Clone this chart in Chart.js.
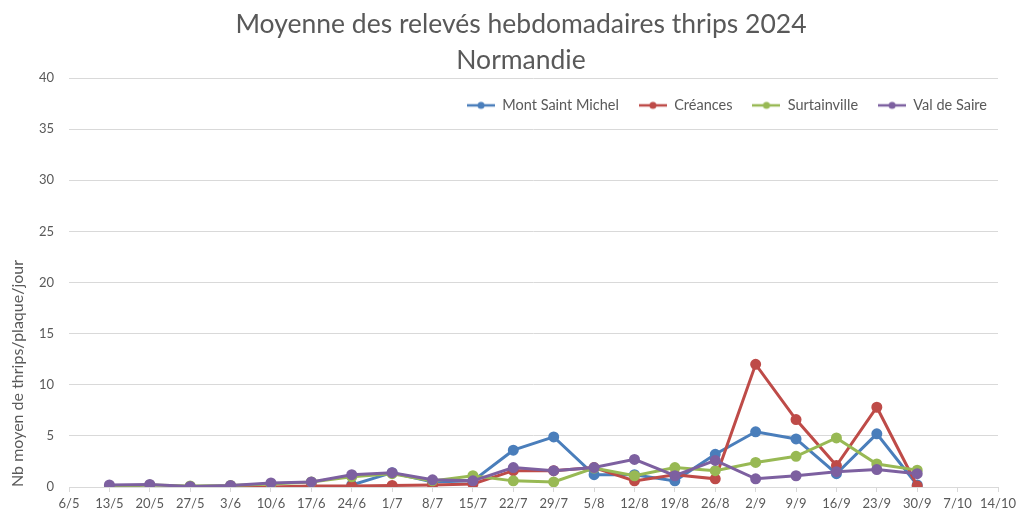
<!DOCTYPE html>
<html>
<head>
<meta charset="utf-8">
<script src="https://cdn.jsdelivr.net/npm/chart.js@4.4.1/dist/chart.umd.min.js"></script>
<style>
  html, body { margin: 0; padding: 0; background: #fff; }
  #wrap { width: 1028px; height: 510px; }
</style>
</head>
<body>
<div id="wrap"><canvas id="myChart" width="1028" height="510"></canvas></div>
<script>
let dates = ['6/5','13/5','20/5','27/5','3/6','10/6','17/6','24/6','1/7','8/7','15/7','22/7','29/7',
             '5/8','12/8','19/8','26/8','2/9','9/9','16/9','23/9','30/9','7/10','14/10'];

let montSaintMichel = [null,null,null,null,null,null,null,0.2,1.4,0.5,0.6,3.6,4.9,1.2,1.2,0.6,3.2,5.4,4.7,1.3,5.2,0.2,null,null];
let creances        = [null,null,null,null,0,0,0.1,0.1,0.15,0.2,0.3,1.6,1.6,1.9,0.6,1.2,0.8,12.0,6.6,2.1,7.8,0.1,null,null];
let surtainville    = [null,0,0.2,0.1,0.15,0.3,0.5,1.0,1.3,0.6,1.1,0.6,0.5,1.85,1.1,1.9,1.6,2.4,3.0,4.8,2.25,1.65,null,null];
let valDeSaire      = [null,0.2,0.25,0.05,0.15,0.4,0.5,1.2,1.4,0.7,0.6,1.9,1.6,1.9,2.7,1.1,2.6,0.8,1.1,1.5,1.7,1.3,null,null];

let seriesNames = ['Mont Saint Michel', 'Créances', 'Surtainville', 'Val de Saire'];
let seriesData = [montSaintMichel, creances, surtainville, valDeSaire];
let colors = ['#4a7ebb', '#be4b48', '#98b954', '#7d60a0'];

// little line+dot marker for the legend
function legendMarker(color) {
    let c = document.createElement('canvas');
    c.width = 28; c.height = 10;
    let g = c.getContext('2d');
    g.strokeStyle = color;
    g.lineWidth = 2.5;
    g.beginPath(); g.moveTo(0, 5); g.lineTo(28, 5); g.stroke();
    g.fillStyle = color;
    g.beginPath(); g.arc(14, 5, 3.5, 0, Math.PI * 2); g.fill();
    return c;
}

// later series drawn on top, like the original
let datasets = seriesNames.map((name, i) => ({
    label: name,
    data: seriesData[i],
    order: seriesNames.length - 1 - i,
    borderColor: colors[i],
    backgroundColor: colors[i],
    borderWidth: 3,
    pointRadius: 4,
    pointHoverRadius: 4,
    pointStyle: 'circle',
    legendStyle: legendMarker(colors[i]),
    fill: false,
    tension: 0
}));

let font = "Lato, 'Open Sans', sans-serif";
let grey = '#595959';

// legend sits inside the plot, top right: give it no height in the layout
let legendOverlay = {
    id: 'legendOverlay',
    beforeInit(chart) {
        let fit = chart.legend.fit;
        chart.legend.fit = function () {
            fit.call(this);
            this.height = 0;
        };
    },
    afterLayout(chart) {
        // give the legend its drawing room back (it clips to its box)
        let lg = chart.legend;
        lg.height = 60;
        lg.bottom = lg.top + 60;
        lg.left += 9;
        lg.right += 9;
        // title is centred a bit right of the canvas centre in the original
        chart.titleBlock.left += 20;
        chart.titleBlock.right += 20;
    }
};

let ctx = document.getElementById('myChart').getContext('2d');
new Chart(ctx, {
    type: 'line',
    data: { labels: dates, datasets: datasets },
    options: {
        responsive: false,
        animation: false,
        layout: { padding: { left: 4, right: 30, top: 6, bottom: 0 } },
        plugins: {
            title: {
                display: true,
                text: ['Moyenne des relevés hebdomadaires thrips 2024', 'Normandie'],
                color: grey,
                font: { family: font, size: 26.5, weight: 'normal', lineHeight: 1.36 },
                padding: { top: 0, bottom: 0 }
            },
            legend: {
                position: 'top',
                align: 'end',
                labels: {
                    color: grey,
                    font: { family: font, size: 14.5 },
                    usePointStyle: true,
                    pointStyleWidth: 28,
                    padding: 20,
                    generateLabels: chart => chart.data.datasets.map((ds, i) => ({
                        text: ds.label,
                        pointStyle: ds.legendStyle,
                        fillStyle: ds.borderColor,
                        strokeStyle: ds.borderColor,
                        lineWidth: 0,
                        datasetIndex: i,
                        fontColor: grey
                    }))
                }
            },
            tooltip: { enabled: false }
        },
        scales: {
            x: {
                offset: false,
                afterFit: scale => { scale.height = 23; },
                grid: { display: true, drawOnChartArea: false, drawTicks: true, tickLength: 5, color: '#d9d9d9' },
                border: { color: '#d9d9d9', width: 1 },
                ticks: { color: grey, font: { family: font, size: 13, lineHeight: 1 }, maxRotation: 0, autoSkip: false, padding: 5 }
            },
            y: {
                min: 0,
                max: 40,
                afterFit: scale => { scale.width = 65; },
                ticks: { stepSize: 5, color: grey, font: { family: font, size: 13 }, padding: 15 },
                grid: { color: '#d9d9d9', drawTicks: false },
                border: { display: false },
                title: {
                    display: true,
                    text: 'Nb moyen de thrips/plaque/jour',
                    align: 'start',
                    color: grey,
                    font: { family: font, size: 16 },
                    padding: { top: 4, bottom: 10 }
                }
            }
        }
    },
    plugins: [legendOverlay]
});
</script>
</body>
</html>
